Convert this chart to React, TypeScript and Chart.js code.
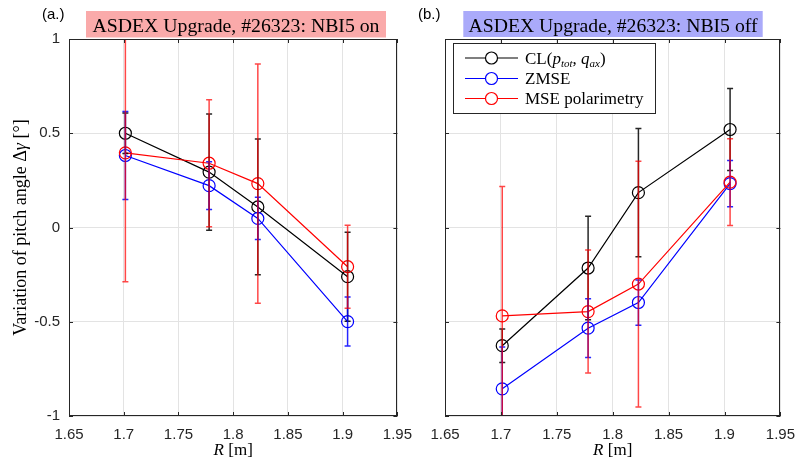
import React, { useEffect, useRef } from 'react';
import { Chart, registerables } from 'chart.js';

Chart.register(...registerables);

// ---------- data ----------
const X_TICKS = [1.65, 1.7, 1.75, 1.8, 1.85, 1.9, 1.95];
const Y_TICKS = [-1, -0.5, 0, 0.5, 1];

// Panel (a): NBI5 on
const R_ON = [1.7015, 1.778, 1.8225, 1.9045];
const CL_ON = [0.5, 0.294, 0.109, -0.261];
const CL_ON_ERR = [0.107, 0.308, 0.36, 0.236];
const ZMSE_ON = [0.382, 0.222, 0.048, -0.499];
const ZMSE_ON_ERR = [0.233, 0.127, 0.112, 0.13];
const POL_ON = [0.396, 0.341, 0.233, -0.208];
const POL_ON_ERR = [0.684, 0.337, 0.635, 0.22];

// Panel (b): NBI5 off
const R_OFF = [1.7012, 1.778, 1.823, 1.905];
const CL_OFF = [-0.627, -0.215, 0.185, 0.52];
const CL_OFF_ERR = [0.089, 0.275, 0.34, 0.218];
const ZMSE_OFF = [-0.856, -0.534, -0.398, 0.233];
const ZMSE_OFF_ERR = [0.222, 0.156, 0.12, 0.123];
const POL_OFF = [-0.469, -0.446, -0.3, 0.241];
const POL_OFF_ERR = [0.687, 0.326, 0.652, 0.23];

const TITLE_ON = 'ASDEX Upgrade, #26323: NBI5 on';
const TITLE_OFF = 'ASDEX Upgrade, #26323: NBI5 off';
const LEGEND_NAMES = ['CL', 'ZMSE', 'MSE polarimetry'];

// ---------- styling ----------
const SERIF = '"Liberation Serif", "DejaVu Serif", serif';
const SANS = '"Liberation Sans", Arial, sans-serif';
const AX = '#262626';

type Run = { text: string; font: string; dy?: number };

function runsWidth(ctx: CanvasRenderingContext2D, runs: Run[]) {
  let w = 0;
  for (const r of runs) {
    ctx.font = r.font;
    w += ctx.measureText(r.text).width;
  }
  return w;
}
function drawRuns(ctx: CanvasRenderingContext2D, runs: Run[], x: number, y: number) {
  let cx = x;
  for (const r of runs) {
    ctx.font = r.font;
    ctx.fillText(r.text, cx, y + (r.dy || 0));
    cx += ctx.measureText(r.text).width;
  }
}

type Series = { x: number[]; y: number[]; err: number[]; color: string; errColor: string; order: number };

type PanelDef = {
  series: Series[];
  title: string;
  titleColor: string;
  tag: string;
  yLabels: boolean;
  yAxisWidth: number;
  padRight: number;
  box: [number, number, number, number];
  titleTextWidth: number;
  tagX: number;
  legend: boolean;
};

function buildConfig(p: PanelDef): any {
  const errPlugin = {
    id: 'errbars',
    afterDatasetsDraw(chart: any) {
      const { ctx, chartArea, scales } = chart;
      ctx.save();
      ctx.beginPath();
      ctx.rect(chartArea.left, chartArea.top, chartArea.right - chartArea.left, chartArea.bottom - chartArea.top);
      ctx.clip();
      ctx.lineWidth = 1.5;
      for (const s of p.series) {
        ctx.strokeStyle = s.errColor;
        ctx.beginPath();
        s.x.forEach((xv, i) => {
          const px = scales.x.getPixelForValue(xv);
          const top = scales.y.getPixelForValue(s.y[i] + s.err[i]);
          const bot = scales.y.getPixelForValue(s.y[i] - s.err[i]);
          ctx.moveTo(px, top);
          ctx.lineTo(px, bot);
          ctx.moveTo(px - 3, top);
          ctx.lineTo(px + 3, top);
          ctx.moveTo(px - 3, bot);
          ctx.lineTo(px + 3, bot);
        });
        ctx.stroke();
      }
      ctx.restore();
    },
  };

  const decoPlugin = {
    id: 'deco',
    afterDraw(chart: any) {
      const { ctx, chartArea, scales } = chart;
      const { left, right, top, bottom } = chartArea;
      ctx.save();
      // box
      ctx.strokeStyle = AX;
      ctx.lineWidth = 1;
      ctx.strokeRect(Math.round(left) + 0.5, Math.round(top) + 0.5, Math.round(right - left) - 1, Math.round(bottom - top) - 1);
      // inward ticks
      ctx.beginPath();
      for (const t of X_TICKS) {
        const px = Math.round(scales.x.getPixelForValue(t)) + 0.5;
        ctx.moveTo(px, bottom);
        ctx.lineTo(px, bottom - 4);
        ctx.moveTo(px, top);
        ctx.lineTo(px, top + 4);
      }
      for (const t of Y_TICKS) {
        const py = Math.round(scales.y.getPixelForValue(t)) + 0.5;
        ctx.moveTo(left, py);
        ctx.lineTo(left + 4, py);
        ctx.moveTo(right, py);
        ctx.lineTo(right - 4, py);
      }
      ctx.stroke();

      // tag
      ctx.fillStyle = '#000';
      ctx.font = `15px ${SANS}`;
      ctx.textBaseline = 'middle';
      ctx.textAlign = 'left';
      ctx.fillText(p.tag, p.tagX, 15);

      // title box
      const [bx, by, bw, bh] = p.box;
      ctx.fillStyle = p.titleColor;
      ctx.fillRect(bx, by, bw, bh);
      ctx.fillStyle = '#000';
      ctx.font = `18px ${SERIF}`;
      ctx.textBaseline = 'alphabetic';
      const tw = ctx.measureText(p.title).width;
      ctx.save();
      ctx.translate(bx + bw / 2, 31.5);
      ctx.scale(p.titleTextWidth / tw, 1);
      ctx.fillText(p.title, -tw / 2, 0);
      ctx.restore();

      // x label
      const xr: Run[] = [
        { text: 'R', font: `italic 17px ${SERIF}` },
        { text: ' [m]', font: `17px ${SERIF}` },
      ];
      ctx.textBaseline = 'middle';
      const xw = runsWidth(ctx, xr);
      drawRuns(ctx, xr, (left + right) / 2 - xw / 2, 451);

      // y label
      if (p.yLabels) {
        const yr: Run[] = [
          { text: 'Variation of pitch angle \u0394', font: `18px ${SERIF}` },
          { text: '\u03b3', font: `italic 18px ${SERIF}` },
          { text: ' [\u00b0]', font: `18px ${SERIF}` },
        ];
        const yw = runsWidth(ctx, yr);
        ctx.save();
        ctx.translate(21, (top + bottom) / 2);
        ctx.rotate(-Math.PI / 2);
        drawRuns(ctx, yr, -yw / 2, 0);
        ctx.restore();
      }

      // legend
      if (p.legend) {
        const lx = left + 8.5;
        const ly = top + 4.5;
        const lw = 202;
        const lh = 70;
        ctx.fillStyle = '#fff';
        ctx.fillRect(lx, ly, lw, lh);
        ctx.strokeStyle = AX;
        ctx.lineWidth = 1;
        ctx.strokeRect(lx, ly, lw, lh);
        const rows = [top + 19, top + 39.5, top + 59.5];
        const cols = ['#000', '#0000ff', '#ff0000'];
        const f = `17px ${SERIF}`;
        const fi = `italic 17px ${SERIF}`;
        const fs = `italic 11px ${SERIF}`;
        const labels: Run[][] = [
          [
            { text: LEGEND_NAMES[0] + '(', font: f },
            { text: 'p', font: fi },
            { text: 'tot', font: fs, dy: 3 },
            { text: ', ', font: f },
            { text: 'q', font: fi },
            { text: 'ax', font: fs, dy: 3 },
            { text: ')', font: f },
          ],
          [{ text: LEGEND_NAMES[1], font: f }],
          [{ text: LEGEND_NAMES[2], font: f }],
        ];
        rows.forEach((ry, i) => {
          ctx.strokeStyle = cols[i];
          ctx.lineWidth = 1.2;
          ctx.beginPath();
          ctx.moveTo(left + 20, ry);
          ctx.lineTo(left + 73, ry);
          ctx.stroke();
          ctx.fillStyle = '#fff';
          ctx.beginPath();
          ctx.arc(left + 46.5, ry, 6, 0, Math.PI * 2);
          ctx.fill();
          ctx.stroke();
          ctx.fillStyle = '#000';
          ctx.textBaseline = 'alphabetic';
          drawRuns(ctx, labels[i], left + 80, ry + 5.5);
        });
      }
      ctx.restore();
    },
  };

  return {
    type: 'line',
    data: {
      datasets: p.series.map((s) => ({
        data: s.x.map((x, i) => ({ x, y: s.y[i] })),
        borderColor: s.color,
        backgroundColor: 'rgba(0,0,0,0)',
        borderWidth: 1.2,
        pointRadius: 6,
        pointBorderWidth: 1.2,
        pointBackgroundColor: 'rgba(0,0,0,0)',
        pointBorderColor: s.color,
        pointStyle: 'circle',
        tension: 0,
        fill: false,
        order: s.order,
      })),
    },
    options: {
      animation: false,
      responsive: false,
      devicePixelRatio: 1,
      events: [],
      layout: { padding: { top: 39, right: p.padRight, left: 0, bottom: 0 } },
      plugins: { legend: { display: false }, tooltip: { enabled: false }, title: { display: false } },
      scales: {
        x: {
          type: 'linear',
          min: 1.65,
          max: 1.95,
          afterBuildTicks: (sc: any) => {
            sc.ticks = X_TICKS.map((v) => ({ value: v }));
          },
          afterFit: (sc: any) => {
            sc.height = 45;
          },
          ticks: {
            autoSkip: false,
            maxRotation: 0,
            padding: 10,
            color: AX,
            font: { family: SANS, size: 15 },
            callback: (v: number) => {
              const t = X_TICKS.find((x) => Math.abs(x - v) < 1e-6);
              return t === undefined ? '' : String(t);
            },
          },
          grid: { color: '#e3e3e3', lineWidth: 1, drawTicks: false },
          border: { display: false },
        },
        y: {
          type: 'linear',
          min: -1,
          max: 1,
          afterBuildTicks: (sc: any) => {
            sc.ticks = Y_TICKS.map((v) => ({ value: v }));
          },
          afterFit: (sc: any) => {
            sc.width = p.yAxisWidth;
          },
          ticks: {
            autoSkip: false,
            padding: 9,
            color: AX,
            font: { family: SANS, size: 15 },
            callback: (v: number) => {
              if (!p.yLabels) return '';
              const t = Y_TICKS.find((x) => Math.abs(x - v) < 1e-6);
              return t === undefined ? '' : String(t);
            },
          },
          grid: { color: '#e3e3e3', lineWidth: 1, drawTicks: false },
          border: { display: false },
        },
      },
    },
    plugins: [errPlugin, decoPlugin],
  };
}

const LEFT: PanelDef = {
  series: [
    { x: R_ON, y: CL_ON, err: CL_ON_ERR, color: '#000000', errColor: 'rgba(0,0,0,0.85)', order: 3 },
    { x: R_ON, y: ZMSE_ON, err: ZMSE_ON_ERR, color: '#0000ff', errColor: 'rgba(0,0,255,0.85)', order: 2 },
    { x: R_ON, y: POL_ON, err: POL_ON_ERR, color: '#ff0000', errColor: 'rgba(255,0,0,0.72)', order: 1 },
  ],
  title: TITLE_ON,
  titleColor: '#faaaaa',
  tag: '(a.)',
  yLabels: true,
  yAxisWidth: 69,
  padRight: 18,
  box: [86, 11, 300, 26.5],
  titleTextWidth: 287,
  tagX: 42,
  legend: false,
};

const RIGHT: PanelDef = {
  series: [
    { x: R_OFF, y: CL_OFF, err: CL_OFF_ERR, color: '#000000', errColor: 'rgba(0,0,0,0.85)', order: 3 },
    { x: R_OFF, y: ZMSE_OFF, err: ZMSE_OFF_ERR, color: '#0000ff', errColor: 'rgba(0,0,255,0.85)', order: 2 },
    { x: R_OFF, y: POL_OFF, err: POL_OFF_ERR, color: '#ff0000', errColor: 'rgba(255,0,0,0.72)', order: 1 },
  ],
  title: TITLE_OFF,
  titleColor: '#aaaafa',
  tag: '(b.)',
  yLabels: false,
  yAxisWidth: 40,
  padRight: 24,
  box: [58.3, 11, 299.4, 26],
  titleTextWidth: 289,
  tagX: 13,
  legend: true,
};

export default function App() {
  const leftRef = useRef<HTMLCanvasElement>(null);
  const rightRef = useRef<HTMLCanvasElement>(null);
  useEffect(() => {
    const c1 = new Chart(leftRef.current as HTMLCanvasElement, buildConfig(LEFT));
    const c2 = new Chart(rightRef.current as HTMLCanvasElement, buildConfig(RIGHT));
    return () => {
      c1.destroy();
      c2.destroy();
    };
  }, []);
  return (
    <div style={{ position: 'absolute', left: 0, top: 0, width: 796, height: 461, overflow: 'hidden', background: '#fff' }}>
      <canvas ref={leftRef} width={422} height={461} style={{ position: 'absolute', left: 0, top: 0, width: 422, height: 461 }} />
      <canvas ref={rightRef} width={400} height={461} style={{ position: 'absolute', left: 405, top: 0, width: 400, height: 461 }} />
    </div>
  );
}
